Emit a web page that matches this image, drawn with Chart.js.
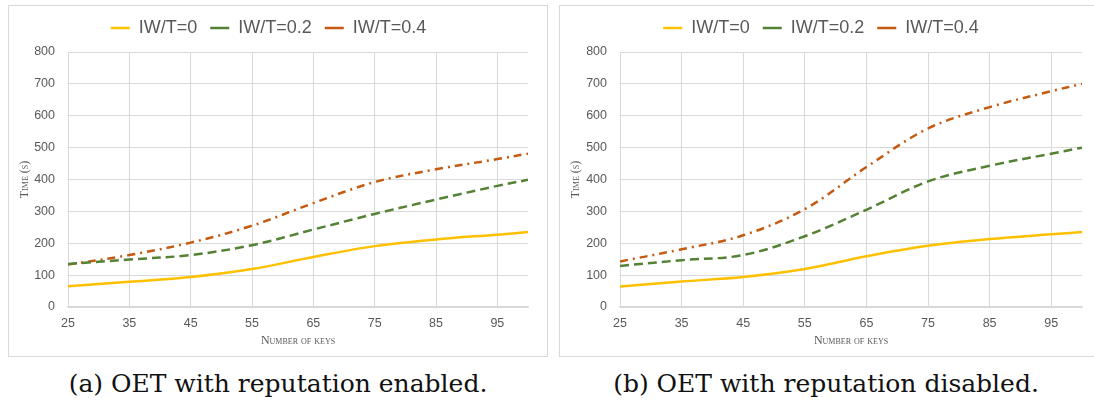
<!DOCTYPE html>
<html>
<head>
<meta charset="utf-8">
<script src="https://cdn.jsdelivr.net/npm/chart.js@4.4.1/dist/chart.umd.min.js"></script>
<style>
  html, body { margin: 0; padding: 0; background: #fff; }
  body { width: 1094px; height: 409px; overflow: hidden; position: relative; }
  .panel { position: absolute; top: 5px; border: 1px solid #d9d9d9; background: #fff; }
  #p1 { left: 8px; width: 538px; height: 350px; }
  #p2 { left: 559px; width: 534px; height: 350px; }
  .cap { position: absolute; top: 369px; font-family: "DejaVu Serif", serif; font-size: 25px; line-height: 30px; color: #111; text-align: center; white-space: nowrap; }
  #c1 { left: 8px; width: 540px; }
  #c2 { left: 559px; width: 534px; }
</style>
</head>
<body>
<div class="panel" id="p1"><canvas id="chart1" width="538" height="350"></canvas></div>
<div class="panel" id="p2"><canvas id="chart2" width="534" height="350"></canvas></div>
<div class="cap" id="c1">(a) OET with reputation enabled.</div>
<div class="cap" id="c2">(b) OET with reputation disabled.</div>
<script>
// ---- data ----
const numberOfKeys = [25, 35, 45, 55, 65, 75, 85, 95, 100];
const xTickLabels = [25, 35, 45, 55, 65, 75, 85, 95];
const yTickLabels = [0, 100, 200, 300, 400, 500, 600, 700, 800];
const seriesNames = ['IW/T=0', 'IW/T=0.2', 'IW/T=0.4'];

const enabledIW0  = [65, 79, 94, 119, 157, 191, 212, 227, 235];
const enabledIW02 = [135, 149, 163, 194, 243, 292, 337, 380, 399];
const enabledIW04 = [133, 163, 202, 255, 326, 392, 432, 464, 481];

const disabledIW0  = [64, 80, 94, 119, 159, 192, 213, 228, 235];
const disabledIW02 = [129, 147, 163, 222, 305, 394, 443, 481, 500];
const disabledIW04 = [143, 181, 225, 307, 439, 560, 627, 677, 700];

// ---- styles ----
const colors = ['#FFC000', '#548235', '#C55A11'];
const dashes = [[], [9, 5], [8, 5, 2, 5]];
const gridColor = '#d9d9d9';
const textColor = '#595959';

function toPoints(vals) {
  return numberOfKeys.map((k, i) => ({ x: k, y: vals[i] }));
}

function makeChart(id, seriesList, yAxisWidth, rightPad) {
  const datasets = seriesList.map((vals, i) => ({
    label: seriesNames[i],
    data: toPoints(vals),
    borderColor: colors[i],
    backgroundColor: colors[i],
    borderWidth: 2.5,
    borderDash: dashes[i],
    pointRadius: 0,
    pointHoverRadius: 0,
    tension: 0.35,
    fill: false
  }));
  return new Chart(document.getElementById(id), {
    type: 'line',
    data: { datasets },
    options: {
      responsive: false,
      animation: false,
      devicePixelRatio: 1,
      layout: { padding: { top: 0, right: rightPad, bottom: 0, left: 0 } },
      plugins: {
        tooltip: { enabled: false },
        legend: {
          position: 'top',
          weight: 1000,
          labels: {
            usePointStyle: true,
            pointStyle: 'line',
            pointStyleWidth: 19,
            padding: 13,
            color: textColor,
            font: { family: 'Liberation Sans', size: 18 }
          }
        },
        title: {
          display: true,
          text: ' ',
          weight: 500,
          font: { size: 1, lineHeight: 1 },
          padding: { top: 0, bottom: 4 }
        }
      },
      scales: {
        x: {
          type: 'linear',
          min: 25,
          max: 100,
          afterBuildTicks: (axis) => {
            axis.ticks = xTickLabels.concat([100]).map(v => ({ value: v }));
          },
          afterFit: (scale) => { scale.height = 49; },
          ticks: {
            padding: 9,
            color: textColor,
            font: { family: 'Liberation Sans', size: 12.5 },
            maxRotation: 0,
            autoSkip: false,
            callback: (v) => xTickLabels.includes(v) ? String(v) : ''
          },
          grid: {
            drawTicks: false,
            color: (ctx) => (ctx.tick && ctx.tick.value === 100) ? 'rgba(0,0,0,0)' : gridColor,
            lineWidth: 1
          },
          border: { display: true, color: gridColor, width: 1.5 },
          title: {
            display: true,
            text: 'Number of keys',
            color: textColor,
            font: { family: 'Liberation Serif', size: 12, weight: 'small-caps' },
            padding: { top: 0, bottom: 8 }
          }
        },
        y: {
          min: 0,
          max: 800,
          afterBuildTicks: (axis) => {
            axis.ticks = yTickLabels.map(v => ({ value: v }));
          },
          afterFit: (scale) => { scale.width = yAxisWidth; },
          ticks: {
            padding: 13,
            color: textColor,
            font: { family: 'Liberation Sans', size: 12.5 }
          },
          grid: { drawTicks: false, color: gridColor, lineWidth: 1 },
          border: { display: false },
          title: {
            display: true,
            text: 'Time (s)',
            color: textColor,
            font: { family: 'Liberation Serif', size: 12, weight: 'small-caps' },
            padding: { top: 9, bottom: 0 }
          }
        }
      }
    }
  });
}

makeChart('chart1', [enabledIW0, enabledIW02, enabledIW04], 59, 19);
makeChart('chart2', [disabledIW0, disabledIW02, disabledIW04], 60, 12);
</script>
</body>
</html>
